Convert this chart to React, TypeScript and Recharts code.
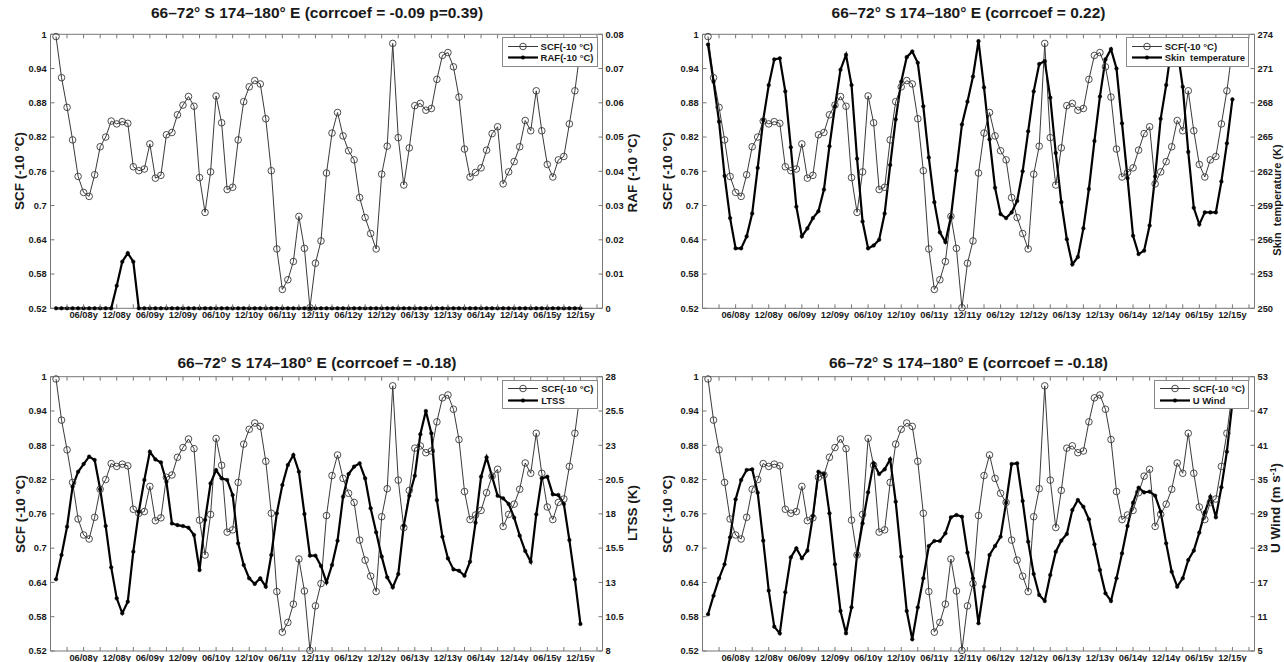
import React from 'react';
import { LineChart, Line, XAxis, YAxis, ReferenceLine, Legend } from 'recharts';

// ---------- data ----------
const MONTHS = Array.from({ length: 96 }, (_, i) => i + 1); // Jan 2008 .. Dec 2015

const X_TICKS = [3, 6, 9, 12, 15, 18, 21, 24, 27, 30, 33, 36, 39, 42, 45, 48, 51, 54, 57, 60, 63, 66, 69, 72, 75, 78, 81, 84, 87, 90, 93, 96, 99];
const X_LABEL_POS = [6, 12, 18, 24, 30, 36, 42, 48, 54, 60, 66, 72, 78, 84, 90, 96];
const X_LABELS = ['06/08y', '12/08y', '06/09y', '12/09y', '06/10y', '12/10y', '06/11y', '12/11y', '06/12y', '12/12y', '06/13y', '12/13y', '06/14y', '12/14y', '06/15y', '12/15y'];

const SCF_TICKS = [0.52, 0.58, 0.64, 0.7, 0.76, 0.82, 0.88, 0.94, 1];
const SCF = [
  0.996, 0.924, 0.872, 0.815, 0.751, 0.723, 0.716, 0.754, 0.803, 0.820,
  0.848, 0.843, 0.847, 0.844, 0.768, 0.761, 0.764, 0.808, 0.748, 0.753,
  0.824, 0.828, 0.859, 0.876, 0.891, 0.874, 0.749, 0.688, 0.759, 0.892,
  0.845, 0.728, 0.732, 0.815, 0.882, 0.908, 0.919, 0.913, 0.852, 0.761,
  0.624, 0.553, 0.570, 0.602, 0.681, 0.625, 0.521, 0.599, 0.638, 0.757,
  0.827, 0.863, 0.822, 0.796, 0.780, 0.714, 0.679, 0.651, 0.624, 0.755,
  0.804, 0.984, 0.819, 0.736, 0.801, 0.875, 0.879, 0.867, 0.870, 0.921,
  0.963, 0.968, 0.943, 0.890, 0.799, 0.750, 0.758, 0.766, 0.797, 0.826,
  0.838, 0.738, 0.759, 0.777, 0.803, 0.849, 0.831, 0.901, 0.831, 0.772,
  0.750, 0.780, 0.786, 0.843, 0.901, 0.975,
];

const RAF_TICKS = [0, 0.01, 0.02, 0.03, 0.04, 0.05, 0.06, 0.07, 0.08];
const RAF = [
  0, 0, 0, 0, 0, 0, 0, 0, 0, 0,
  0, 0.0066, 0.0136, 0.0161, 0.0136, 0, 0, 0, 0, 0,
  0, 0, 0, 0, 0, 0, 0, 0, 0, 0,
  0, 0, 0, 0, 0, 0, 0, 0, 0, 0,
  0, 0, 0, 0, 0, 0, 0, 0, 0, 0,
  0, 0, 0, 0, 0, 0, 0, 0, 0, 0,
  0, 0, 0, 0, 0, 0, 0, 0, 0, 0,
  0, 0, 0, 0, 0, 0, 0, 0, 0, 0,
  0, 0, 0, 0, 0, 0, 0, 0, 0, 0,
  0, 0, 0, 0, 0, 0,
];

const SKIN_TICKS = [250, 253, 256, 259, 262, 265, 268, 271, 274];
const SKIN = [
  273.1, 269.85, 266.35, 261.6, 257.9, 255.25, 255.25, 256.3, 258.3, 262.3,
  266.5, 269.55, 271.8, 271.9, 269.0, 264.1, 258.9, 256.3, 257.0, 257.9,
  258.5, 260.4, 264.2, 267.7, 270.9, 272.2, 269.55, 263.1, 257.6, 255.25,
  255.5, 256.0, 258.3, 262.55, 266.55, 269.85, 272.0, 272.5, 271.5, 267.7,
  263.2, 259.3, 256.65, 255.8, 258.0, 262.05, 266.1, 268.1, 270.3, 273.4,
  269.35, 264.8, 260.55, 258.25, 257.9, 258.4, 259.4, 262.0, 265.5, 269.0,
  271.4, 271.65, 268.45, 263.6, 259.3, 256.05, 253.85, 254.5, 257.0, 260.45,
  264.65, 268.55, 271.8, 272.7, 271.0, 266.2, 261.4, 256.35, 254.75, 255.05,
  257.25, 261.55, 266.6, 269.55, 273.0, 272.8, 269.4, 263.7, 258.8, 257.35,
  258.4, 258.4, 258.4, 261.1, 264.45, 268.3,
];

const LTSS_TICKS = [8, 10.5, 13, 15.5, 18, 20.5, 23, 25.5, 28];
const LTSS = [
  13.23, 15.0, 17.06, 19.98, 21.07, 21.63, 22.17, 21.93, 19.79, 17.11,
  14.1, 11.84, 10.75, 11.6, 15.24, 18.16, 20.47, 22.53, 21.97, 21.75,
  20.34, 17.3, 17.18, 17.11, 16.99, 16.46, 13.9, 17.55, 20.22, 21.19,
  20.59, 20.47, 19.37, 15.85, 14.27, 13.3, 12.89, 13.3, 12.69, 15.0,
  18.04, 20.1, 21.56, 22.29, 21.07, 17.99, 14.95, 14.95, 14.2, 13.0,
  14.27, 16.04, 19.25, 20.9, 21.44, 21.68, 20.59, 18.4, 16.65, 14.88,
  13.37, 12.64, 13.61, 17.14, 19.32, 20.78, 23.8, 25.5, 23.87, 19.0,
  16.33, 14.75, 13.95, 13.85, 13.49, 14.51, 17.36, 20.71, 22.12, 20.71,
  19.32, 19.13, 18.72, 17.72, 16.41, 15.29, 14.51, 17.96, 20.59, 20.71,
  19.42, 19.37, 18.72, 16.09, 13.22, 9.97,
];

const UWIND_TICKS = [5, 11, 17, 23, 29, 35, 41, 47, 53];
const UWIND = [
  11.42, 14.68, 17.72, 20.17, 24.89, 31.54, 34.92, 36.67, 36.79, 32.7,
  24.31, 15.56, 9.26, 8.09, 15.27, 21.39, 22.97, 21.22, 22.56, 28.62,
  36.38, 35.97, 29.09, 20.17, 12.0, 8.09, 12.64, 21.8, 27.34, 32.76,
  37.84, 35.97, 36.79, 38.54, 31.13, 21.51, 12.0, 7.04, 12.64, 17.72,
  23.38, 24.25, 24.25, 25.59, 28.39, 28.8, 28.5, 22.21, 17.72, 9.85,
  16.25, 21.8, 23.38, 25.0, 30.95, 37.72, 37.84, 31.25, 24.13, 18.47,
  14.8, 13.75, 18.3, 22.38, 24.31, 25.47, 29.67, 31.42, 30.25, 28.04,
  23.67, 19.17, 15.09, 13.75, 17.72, 22.09, 26.87, 30.95, 33.58, 32.76,
  32.88, 32.18, 29.38, 23.84, 18.88, 16.26, 17.72, 20.92, 22.56, 25.71,
  29.26, 32.0, 28.39, 33.64, 39.88, 48.5,
];

// ---------- styles ----------
const FONT = '"Liberation Sans", Arial, Helvetica, sans-serif';
const AXIS_COLOR = '#777';
const TEXT_COLOR = '#1a1a1a';
const SCF_COLOR = '#3a3a3a';
const TICK_LEN = 4;
const PL = 50.5;
const PR = 602.5;
const LW = 45;
const XH = 10;

type PanelProps = {
  left: number;
  top: number;
  width: number;
  height: number;
  pt: number;
  pb: number;
  title: string;
  series: number[];
  seriesName: string;
  rightTicks: number[];
  rightDomain: [number, number];
  rightLabel: React.ReactNode;
  rightLabelSize?: number;
  leftLabelX: number;
  rightLabelX: number;
  rightLabelY: number;
  titleTop: number;
};

const VLabel = ({ x, y, size = 13.5, children }: { x: number; y: number; size?: number; children: React.ReactNode }) => (
  <div
    style={{
      position: 'absolute',
      left: x,
      top: y,
      transform: 'translate(-50%, -50%) rotate(-90deg)',
      whiteSpace: 'pre',
      font: `bold ${size}px ${FONT}`,
      lineHeight: `${size + 1}px`,
      color: TEXT_COLOR,
    }}
  >
    {children}
  </div>
);

const LegendBox = ({ name }: { name: string }) => (
  <div
    style={{
      border: '1px solid #888',
      background: '#fff',
      padding: '2px 3px 2px 5px',
      font: `bold 9.5px ${FONT}`,
      color: TEXT_COLOR,
      whiteSpace: 'pre',
    }}
  >
    <div style={{ display: 'flex', alignItems: 'center', height: 11.8 }}>
      <svg width={30} height={11} style={{ marginRight: 3 }}>
        <line x1={0} x2={30} y1={5.5} y2={5.5} stroke={SCF_COLOR} strokeWidth={1} />
        <circle cx={15} cy={5.5} r={3.3} fill="none" stroke={SCF_COLOR} strokeWidth={0.9} />
      </svg>
      <span>SCF(-10 °C)</span>
    </div>
    <div style={{ display: 'flex', alignItems: 'center', height: 11.8 }}>
      <svg width={30} height={11} style={{ marginRight: 3 }}>
        <line x1={0} x2={30} y1={5.5} y2={5.5} stroke="#000" strokeWidth={2.2} />
        <circle cx={15} cy={5.5} r={1.8} fill="#000" stroke="#000" strokeWidth={0.5} />
      </svg>
      <span>{name}</span>
    </div>
  </div>
);

function Panel(p: PanelProps) {
  const rows = MONTHS.map((m, i) => ({ m, scf: SCF[i], v: p.series[i] }));
  const RW = p.width - PR - 2;
  const margin = { top: p.pt, left: PL - LW, right: 2, bottom: p.height - p.pb - XH };
  const tickFont = { fontFamily: FONT, fontWeight: 700, fontSize: 9.3, fill: TEXT_COLOR };

  const xTick = (props: any) => {
    const { x, payload } = props;
    const li = X_LABEL_POS.indexOf(payload.value);
    return (
      <g>
        <line x1={x} x2={x} y1={p.pb} y2={p.pb - TICK_LEN} stroke={AXIS_COLOR} strokeWidth={1} />
        <line x1={x} x2={x} y1={p.pt} y2={p.pt + TICK_LEN} stroke={AXIS_COLOR} strokeWidth={1} />
        {li >= 0 && (
          <text x={x} y={p.pb + 9.7} textAnchor="middle" {...tickFont}>
            {X_LABELS[li]}
          </text>
        )}
      </g>
    );
  };
  const leftTick = (props: any) => {
    const { y, payload } = props;
    return (
      <g>
        <line x1={PL} x2={PL + TICK_LEN} y1={y} y2={y} stroke={AXIS_COLOR} strokeWidth={1} />
        <text x={PL - 3.8} y={y + 3.3} textAnchor="end" {...tickFont}>
          {String(payload.value)}
        </text>
      </g>
    );
  };
  const rightTick = (props: any) => {
    const { y, payload } = props;
    return (
      <g>
        <line x1={PR} x2={PR - TICK_LEN} y1={y} y2={y} stroke={AXIS_COLOR} strokeWidth={1} />
        <text x={PR + 3} y={y + 3.3} textAnchor="start" {...tickFont}>
          {String(payload.value)}
        </text>
      </g>
    );
  };

  return (
    <div style={{ position: 'absolute', left: p.left, top: p.top, width: p.width, height: p.height }}>
      <LineChart width={p.width} height={p.height} data={rows} margin={margin}>
        <XAxis
          dataKey="m"
          type="number"
          domain={[0, 100]}
          ticks={X_TICKS}
          interval={0}
          height={XH}
          axisLine={{ stroke: AXIS_COLOR, strokeWidth: 1 }}
          tickLine={false}
          tick={xTick}
        />
        <YAxis
          yAxisId="l"
          domain={[0.52, 1]}
          ticks={SCF_TICKS}
          interval={0}
          width={LW}
          axisLine={{ stroke: AXIS_COLOR, strokeWidth: 1 }}
          tickLine={false}
          tick={leftTick}
        />
        <YAxis
          yAxisId="r"
          orientation="right"
          domain={p.rightDomain}
          ticks={p.rightTicks}
          interval={0}
          width={RW}
          axisLine={{ stroke: AXIS_COLOR, strokeWidth: 1 }}
          tickLine={false}
          tick={rightTick}
        />
        <ReferenceLine yAxisId="l" y={1} stroke={AXIS_COLOR} strokeWidth={1} />
        <Line
          yAxisId="l"
          type="linear"
          dataKey="scf"
          stroke={SCF_COLOR}
          strokeWidth={1}
          dot={{ r: 3.3, fill: 'none', stroke: SCF_COLOR, strokeWidth: 0.9 }}
          activeDot={false}
          isAnimationActive={false}
        />
        <Line
          yAxisId="r"
          type="linear"
          dataKey="v"
          stroke="#000"
          strokeWidth={2.2}
          dot={{ r: 1.8, fill: '#000', stroke: '#000', strokeWidth: 0.5 }}
          activeDot={false}
          isAnimationActive={false}
        />
        <Legend
          layout="horizontal"
          verticalAlign="middle"
          align="center"
          wrapperStyle={{
            position: 'absolute',
            top: p.pt + 3,
            right: p.width - PR + 5,
            left: 'auto',
            bottom: 'auto',
            width: 'auto',
            height: 'auto',
          }}
          content={() => <LegendBox name={p.seriesName} />}
        />
      </LineChart>
      <div
        style={{
          position: 'absolute',
          left: 317,
          top: p.titleTop,
          transform: 'translateX(-50%)',
          whiteSpace: 'nowrap',
          font: `bold 15.5px ${FONT}`,
          lineHeight: '18px',
          color: TEXT_COLOR,
        }}
      >
        {p.title}
      </div>
      <VLabel x={p.leftLabelX} y={(p.pt + p.pb) / 2}>SCF (-10 °C)</VLabel>
      <VLabel x={p.rightLabelX} y={p.rightLabelY} size={p.rightLabelSize}>{p.rightLabel}</VLabel>
    </div>
  );
}

export default function App() {
  return (
    <div style={{ position: 'absolute', left: 0, top: 0, width: 1284, height: 662, overflow: 'hidden', background: '#fff' }}>
      <Panel
        left={0}
        top={0}
        width={642}
        height={330}
        pt={34.3}
        pb={308.3}
        titleTop={4.1}
        title="66–72° S 174–180° E (corrcoef = -0.09 p=0.39)"
        series={RAF}
        seriesName="RAF(-10 °C)"
        rightTicks={RAF_TICKS}
        rightDomain={[0, 0.08]}
        rightLabel="RAF (-10 °C)"
        leftLabelX={19.5}
        rightLabelX={632.5}
        rightLabelY={173}
      />
      <Panel
        left={651.5}
        top={0}
        width={632.5}
        height={330}
        pt={34.3}
        pb={308.3}
        titleTop={4.1}
        title="66–72° S 174–180° E (corrcoef = 0.22)"
        series={SKIN}
        seriesName="Skin  temperature"
        rightTicks={SKIN_TICKS}
        rightDomain={[250, 274]}
        rightLabel="Skin  temperature (K)"
        rightLabelSize={11}
        leftLabelX={16}
        rightLabelX={625.5}
        rightLabelY={200}
      />
      <Panel
        left={0}
        top={338}
        width={642}
        height={324}
        pt={38.7}
        pb={313}
        titleTop={15.6}
        title="66–72° S 174–180° E (corrcoef = -0.18)"
        series={LTSS}
        seriesName="LTSS"
        rightTicks={LTSS_TICKS}
        rightDomain={[8, 28]}
        rightLabel="LTSS (K)"
        leftLabelX={21}
        rightLabelX={632.5}
        rightLabelY={174.5}
      />
      <Panel
        left={651.5}
        top={338}
        width={632.5}
        height={324}
        pt={38.7}
        pb={313}
        titleTop={15.6}
        title="66–72° S 174–180° E (corrcoef = -0.18)"
        series={UWIND}
        seriesName="U Wind"
        rightTicks={UWIND_TICKS}
        rightDomain={[5, 53]}
        rightLabel={
          <span>
            U Wind (m s<span style={{ fontSize: '0.65em', position: 'relative', top: '-0.5em' }}>-1</span>)
          </span>
        }
        leftLabelX={16}
        rightLabelX={625.5}
        rightLabelY={169.5}
      />
    </div>
  );
}
